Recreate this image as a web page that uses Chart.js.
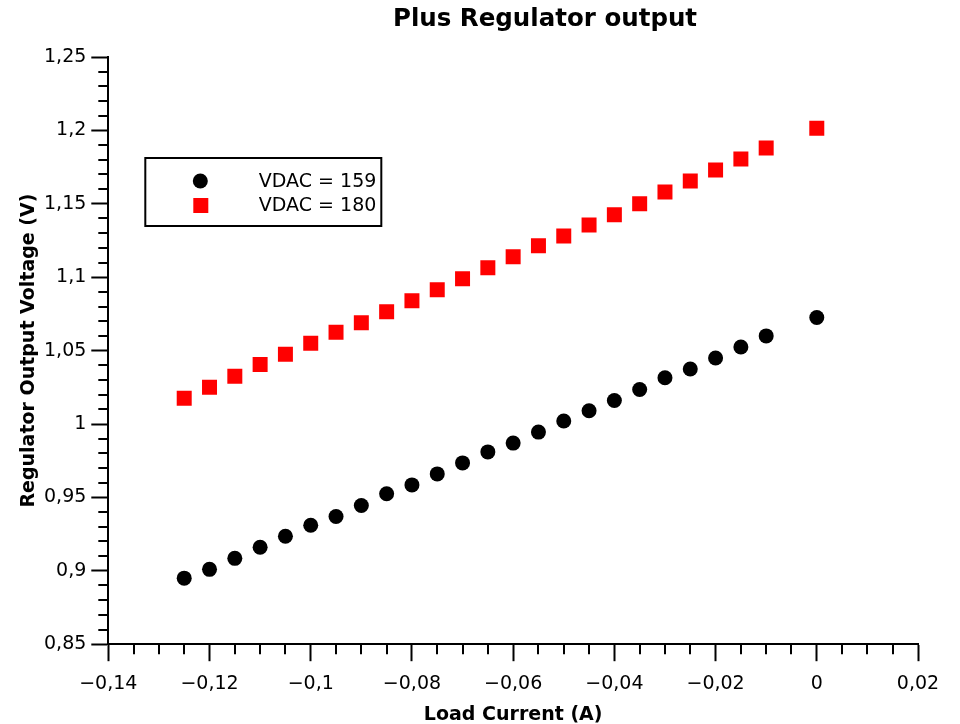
<!DOCTYPE html>
<html>
<head>
<meta charset="utf-8">
<script src="https://cdn.jsdelivr.net/npm/chart.js@4"></script>
<style>
html, body { margin: 0; padding: 0; background: #fff; }
#wrap { width: 960px; height: 724px; position: relative; }
</style>
</head>
<body>
<div id="wrap"><canvas id="regChart"></canvas></div>
<script>
const loadCurrent = [-0.125, -0.12, -0.115, -0.11, -0.105, -0.1, -0.095, -0.09, -0.085, -0.08,
  -0.075, -0.07, -0.065, -0.06, -0.055, -0.05, -0.045, -0.04, -0.035, -0.03,
  -0.025, -0.02, -0.015, -0.01, 0];
const vdac159 = [0.895, 0.901, 0.9085, 0.916, 0.9235, 0.931, 0.937, 0.9445, 0.9525, 0.9585,
  0.966, 0.9735, 0.981, 0.987, 0.9945, 1.002, 1.009, 1.016, 1.0235, 1.0315,
  1.0375, 1.045, 1.0525, 1.06, 1.0725];
const vdac180 = [1.0175, 1.025, 1.0325, 1.0405, 1.0475, 1.055, 1.0625, 1.069, 1.0765, 1.084,
  1.0915, 1.099, 1.1065, 1.114, 1.1215, 1.128, 1.1355, 1.1425, 1.15, 1.158,
  1.1655, 1.173, 1.1805, 1.188, 1.2015];
const seriesNames = ['VDAC = 159', 'VDAC = 180'];
const seriesColors = ['#000000', '#ff0000'];

const FONT = "'DejaVu Sans', sans-serif";

function fmt(v) {
  return String(Number(v.toFixed(3))).replace('.', ',').replace('-', '\u2212');
}
function isMajor(v, step) {
  const r = v / step;
  return Math.abs(r - Math.round(r)) < 1e-6;
}

function pts(ys) {
  return loadCurrent.map((x, i) => ({ x: x, y: ys[i] }));
}

// short minor ticks, the title and the boxed legend
const extras = {
  id: 'extras',
  afterDraw(chart) {
    const ctx = chart.ctx;
    const area = chart.chartArea;
    const xs = chart.scales.x, ys = chart.scales.y;
    ctx.save();
    ctx.strokeStyle = '#000';
    ctx.lineWidth = 2;
    xs.ticks.forEach(t => {
      if (isMajor(t.value, 0.02)) return;
      const px = Math.round(xs.getPixelForValue(t.value));
      ctx.beginPath();
      ctx.moveTo(px, area.bottom);
      ctx.lineTo(px, area.bottom + 10);
      ctx.stroke();
    });
    ys.ticks.forEach(t => {
      if (isMajor(t.value, 0.05)) return;
      const py = Math.round(ys.getPixelForValue(t.value));
      ctx.beginPath();
      ctx.moveTo(area.left, py);
      ctx.lineTo(area.left - 10, py);
      ctx.stroke();
    });

    // title
    ctx.fillStyle = '#000';
    ctx.font = 'bold 24.5px ' + FONT;
    ctx.textAlign = 'center';
    ctx.textBaseline = 'middle';
    ctx.fillText('Plus Regulator output', 545, 20);

    // legend box
    const bx = area.left + 37, by = area.top + 101;
    ctx.lineWidth = 2;
    ctx.strokeRect(bx, by, 236, 68);
    ctx.font = '19px ' + FONT;
    ctx.textAlign = 'right';
    seriesNames.forEach((name, i) => {
      const cy = by + 23 + i * 24;
      ctx.fillStyle = seriesColors[i];
      if (i === 0) {
        ctx.beginPath();
        ctx.arc(bx + 55, cy, 7.5, 0, Math.PI * 2);
        ctx.fill();
      } else {
        ctx.fillRect(bx + 48, cy - 7, 15, 15);
      }
      ctx.fillStyle = '#000';
      ctx.fillText(name, bx + 231, cy + 1);
    });
    ctx.restore();
  }
};

const ctx = document.getElementById('regChart').getContext('2d');
new Chart(ctx, {
  type: 'scatter',
  data: {
    datasets: [{
      label: seriesNames[0],
      data: pts(vdac159),
      pointStyle: 'circle',
      pointRadius: 7.5,
      pointBorderWidth: 0,
      backgroundColor: seriesColors[0],
      borderColor: seriesColors[0]
    }, {
      label: seriesNames[1],
      data: pts(vdac180),
      pointStyle: 'rect',
      pointRadius: 10.6,
      pointBorderWidth: 0,
      backgroundColor: seriesColors[1],
      borderColor: seriesColors[1]
    }]
  },
  options: {
    responsive: true,
    maintainAspectRatio: false,
    animation: false,
    layout: { padding: { top: 57, right: 42, left: 0, bottom: -1 } },
    plugins: {
      legend: { display: false },
      title: { display: false },
      tooltip: { enabled: false }
    },
    scales: {
      x: {
        type: 'linear',
        min: -0.14,
        max: 0.02,
        border: { display: true, color: '#000', width: 2 },
        grid: {
          drawOnChartArea: false,
          drawTicks: true,
          tickLength: 17,
          tickWidth: 2,
          tickColor: c => isMajor(c.tick.value, 0.02) ? '#000' : 'rgba(0,0,0,0)'
        },
        ticks: {
          stepSize: 0.005,
          autoSkip: false,
          maxRotation: 0,
          padding: 11,
          color: '#000',
          font: { family: FONT, size: 19 },
          callback: v => isMajor(v, 0.02) ? fmt(v) : ''
        },
        title: {
          display: true,
          text: 'Load Current (A)',
          color: '#000',
          font: { family: FONT, size: 19, weight: 'bold', lineHeight: 1 },
          padding: { top: 0, bottom: 0 }
        }
      },
      y: {
        type: 'linear',
        min: 0.85,
        max: 1.25,
        border: { display: true, color: '#000', width: 2 },
        grid: {
          drawOnChartArea: false,
          drawTicks: true,
          tickLength: 17,
          tickWidth: 2,
          tickColor: c => isMajor(c.tick.value, 0.05) ? '#000' : 'rgba(0,0,0,0)'
        },
        ticks: {
          stepSize: 0.01,
          autoSkip: false,
          padding: 5,
          color: '#000',
          font: { family: FONT, size: 19 },
          callback: v => isMajor(v, 0.05) ? fmt(v) : ''
        },
        title: {
          display: true,
          text: 'Regulator Output Voltage (V)',
          color: '#000',
          font: { family: FONT, size: 19, weight: 'bold', lineHeight: 1 },
          padding: { top: 20, bottom: 0 }
        }
      }
    }
  },
  plugins: [extras]
});
</script>
</body>
</html>
